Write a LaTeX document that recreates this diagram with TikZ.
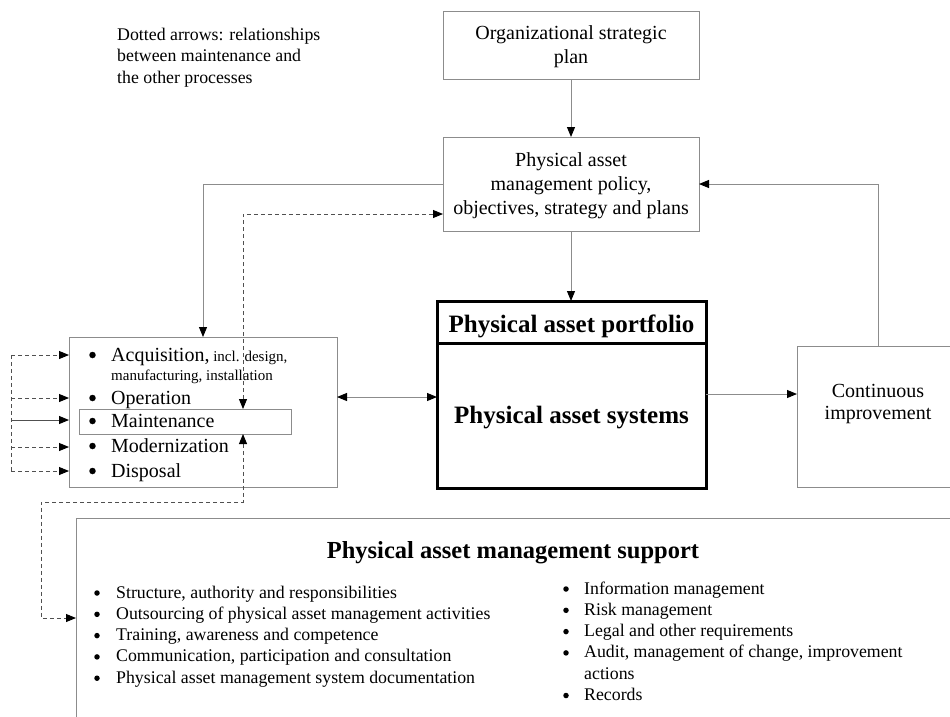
\documentclass[tikz,border=0pt]{standalone}
\usepackage{fontspec}
\setmainfont{Liberation Serif}
\usetikzlibrary{arrows.meta}
\definecolor{framegray}{HTML}{8C8C8C}
\definecolor{dashgray}{HTML}{505050}
\begin{document}
\begin{tikzpicture}[x=1pt,y=-1pt,
  >={Triangle[length=10pt,width=8pt,color=black,fill=black]},
  box/.style={draw=framegray,line width=1pt,inner sep=0pt,outer sep=0pt},
  heavybox/.style={draw=black,line width=3pt,inner sep=0pt,outer sep=0pt},
  link/.style={draw=framegray,line width=1pt},
  dashlink/.style={draw=dashgray,line width=0.9pt,dash pattern=on 4pt off 3pt},
  big/.style={font=\fontsize{20}{24}\selectfont,inner sep=0pt},
  small/.style={font=\fontsize{15}{18}\selectfont,inner sep=0pt},
  body/.style={font=\fontsize{17.8}{21}\selectfont,inner sep=0pt},
  heading/.style={font=\fontsize{25}{30}\selectfont\bfseries,inner sep=0pt},
  bigdot/.style={circle,fill=black,inner sep=0pt,minimum size=6.5pt},
  smalldot/.style={circle,fill=black,inner sep=0pt,minimum size=5.5pt},
]
\useasboundingbox (0,0) rectangle (950,716);
\clip (0,0) rectangle (950,716);

% ---------- boxes ----------
\node[box,minimum width=256pt,minimum height=68pt] (org) at (571,45) {};
\node[box,minimum width=256pt,minimum height=94pt] (policy) at (571,184) {};
\node[box,minimum width=268pt,minimum height=150pt] (left) at (203,412) {};
\node[box,minimum width=212pt,minimum height=25pt] (mbox) at (185,421.5) {};
\node[box,minimum width=162pt,minimum height=141pt] (ci) at (878,416.5) {};
\node[box,minimum width=875pt,minimum height=212pt] (support) at (513.5,624) {};
\node[heavybox,minimum width=269pt,minimum height=42pt] (port) at (571.5,322) {};
\node[heavybox,minimum width=269pt,minimum height=145pt] (sys) at (571.5,415.5) {};

% ---------- texts ----------
\node[body,anchor=base west] (note1) at (117,40) {Dotted arrows: relationships};
\node[body,anchor=base west] (note2) at (117,61.5) {between maintenance and};
\node[body,anchor=base west] (note3) at (117,83) {the other processes};

\node[big,anchor=base] (orgA) at (571,39) {Organizational strategic};
\node[big,anchor=base] (orgB) at (571,63) {plan};

\node[big,anchor=base] (polA) at (571,166.5) {Physical asset};
\node[big,anchor=base] (polB) at (571,190.5) {management policy,};
\node[big,anchor=base] (polC) at (571,214.5) {objectives, strategy and plans};

\node[heading,anchor=base] (portT) at (571.5,332) {Physical asset portfolio};
\node[heading,anchor=base] (sysT) at (571.5,423) {Physical asset systems};

\node[big,anchor=base] (ciA) at (878,397) {Continuous};
\node[big,anchor=base] (ciB) at (878,419) {improvement};

% life-cycle processes
\foreach \y [count=\i] in {361,404,427,452,477}
  \node[bigdot] (b\i) at (92.5,\y-6) {};
\node[big,anchor=base west] (p1) at (111,361) {Acquisition,{\fontsize{15}{18}\selectfont\ incl. design,}};
\node[small,anchor=base west] (p1b) at (111,380) {manufacturing, installation};
\node[big,anchor=base west] (p2) at (111,404) {Operation};
\node[big,anchor=base west] (p3) at (111,427) {Maintenance};
\node[big,anchor=base west] (p4) at (111,452) {Modernization};
\node[big,anchor=base west] (p5) at (111,477) {Disposal};

% support
\node[font=\fontsize{24.5}{29}\selectfont\bfseries,inner sep=0pt,anchor=base] (supT) at (513,558) {Physical asset management support};
\foreach \y/\t [count=\i] in {598/{Structure, authority and responsibilities},
    619.3/{Outsourcing of physical asset management activities},
    640.6/{Training, awareness and competence},
    661.9/{Communication, participation and consultation},
    683.2/{Physical asset management system documentation}}{
  \node[smalldot] (sl\i) at (97,\y-5) {};
  \node[body,anchor=base west] (st\i) at (116,\y) {\t};
}
\foreach \y/\t [count=\i] in {594/{Information management},
    615.3/{Risk management},
    636.6/{Legal and other requirements},
    657.9/{Audit, management of change, improvement}}{
  \node[smalldot] (sr\i) at (566,\y-5) {};
  \node[body,anchor=base west] (sq\i) at (584,\y) {\t};
}
\node[body,anchor=base west] (sq5) at (584,679.2) {actions};
\node[smalldot] (sr6) at (566,695.5) {};
\node[body,anchor=base west] (sq6) at (584,700.5) {Records};

% ---------- helper coordinates ----------
\coordinate (hPI) at (0,394);
\coordinate (hLP) at (0,397);
\coordinate (mx) at (243,0);
\coordinate (hPol) at (0,214);
\coordinate (d1) at (243,502);
\coordinate (d2) at (41,502);
\coordinate (d3) at (41,618);
\coordinate (lx) at (11,0);
\coordinate (yA) at (0,355);
\coordinate (yO) at (0,398);
\coordinate (yM) at (0,420);
\coordinate (yN) at (0,447);
\coordinate (yD) at (0,471);

% ---------- solid connectors ----------
\draw[link,->] (org.south) -- (policy.north);
\draw[link,->] (policy.south) -- (policy.south |- port.north);
\draw[link,->] (policy.west) -| (left.north);
\draw[link,->] (ci.north) |- (policy.east);
\draw[link,->] (sys.east |- hPI) -- (ci.west |- hPI);
\draw[link,<->] (left.east |- hLP) -- (sys.west |- hLP);

% ---------- dashed connectors (maintenance) ----------
\draw[dashlink,<->] (mbox.north -| mx) |- (policy.west |- hPol);
\draw[dashlink,<->] (mbox.south -| mx) -- (d1) -- (d2) -- (d3) -- (support.west |- d3);
\draw[dashlink] (lx |- yA) -- (lx |- yD);
\draw[dashlink,->] (lx |- yA) -- (left.west |- yA);
\draw[dashlink,->] (lx |- yO) -- (left.west |- yO);
\draw[link,draw=dashgray,->] (lx |- yM) -- (left.west |- yM);
\draw[dashlink,->] (lx |- yN) -- (left.west |- yN);
\draw[dashlink,->] (lx |- yD) -- (left.west |- yD);
\end{tikzpicture}
\end{document}
